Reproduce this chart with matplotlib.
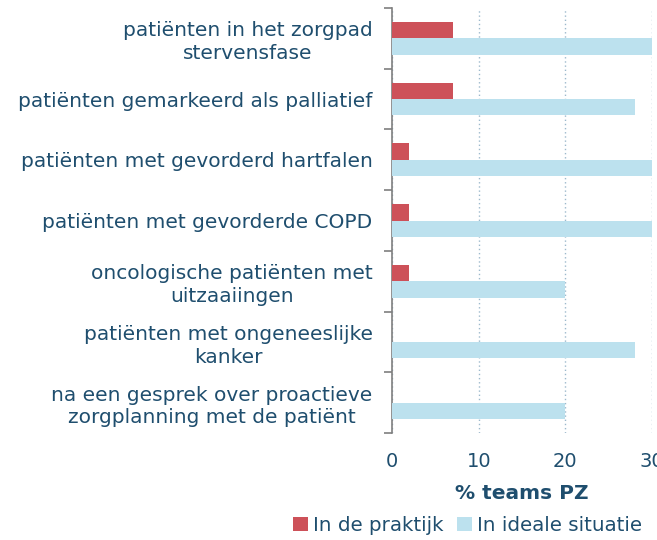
import matplotlib
matplotlib.use("Agg")
import matplotlib.pyplot as plt
import numpy as np
from matplotlib.ticker import FixedLocator

categories = [
    "patiënten in het zorgpad\nstervensfase",
    "patiënten gemarkeerd als palliatief",
    "patiënten met gevorderd hartfalen",
    "patiënten met gevorderde COPD",
    "oncologische patiënten met\nuitzaaiingen",
    "patiënten met ongeneeslijke\nkanker",
    "na een gesprek over proactieve\nzorgplanning met de patiënt",
]
praktijk = [7, 7, 2, 2, 2, 0, 0]
ideaal = [30, 28, 30, 30, 20, 28, 20]
series_names = ["In de praktijk", "In ideale situatie"]
xticks = [0, 10, 20, 30]

red = "#CD5159"
blue = "#BCE1EE"
txt = "#1F4E6E"

plt.rcParams['font.family'] = ['DejaVu Sans']

fig = plt.figure(figsize=(6.57, 5.40), dpi=100)
ax = fig.add_axes([0.5967, 0.1981, 0.3957, 0.7871])

n = len(categories)
y = np.arange(n)
h = 0.27
ax.barh(y - h / 2, praktijk, height=h, color=red, label=series_names[0], zorder=3)
ax.barh(y + h / 2, ideaal, height=h, color=blue, label=series_names[1], zorder=3)

ax.set_ylim(n - 0.5, -0.5)
ax.set_xlim(0, 30)

ax.set_yticks(y)
ax.set_yticklabels(categories, fontsize=14.5, color=txt, ha='right',
                   multialignment='center', linespacing=1.25)
ax.tick_params(axis='y', which='major', length=0, pad=14)
ax.yaxis.set_minor_locator(FixedLocator(np.arange(-0.5, n, 1.0)))
ax.tick_params(axis='y', which='minor', length=6, width=1.2, color="#7F7F7F", direction='out')

ax.set_xticks(xticks)
ax.set_xticklabels([str(v) for v in xticks], fontsize=14, color=txt)
ax.tick_params(axis='x', length=0, pad=14)
ax.xaxis.grid(True, linestyle=(0, (1, 2)), color="#9DB9CC", linewidth=1.0, zorder=0)

for s in ["top", "right", "bottom"]:
    ax.spines[s].set_visible(False)
ax.spines["left"].set_color("#7F7F7F")
ax.spines["left"].set_linewidth(1.2)

ax.set_xlabel("% teams PZ", fontsize=14.5, fontweight='bold', color=txt, labelpad=9)

leg = fig.legend(loc='center', bbox_to_anchor=(0.712, 0.027), ncol=2, frameon=False,
                 fontsize=14.3, handlelength=0.75, handleheight=0.75, handletextpad=0.25,
                 columnspacing=0.7, borderaxespad=0)
for t in leg.get_texts():
    t.set_color(txt)

fig.savefig("out.png", dpi=100)
